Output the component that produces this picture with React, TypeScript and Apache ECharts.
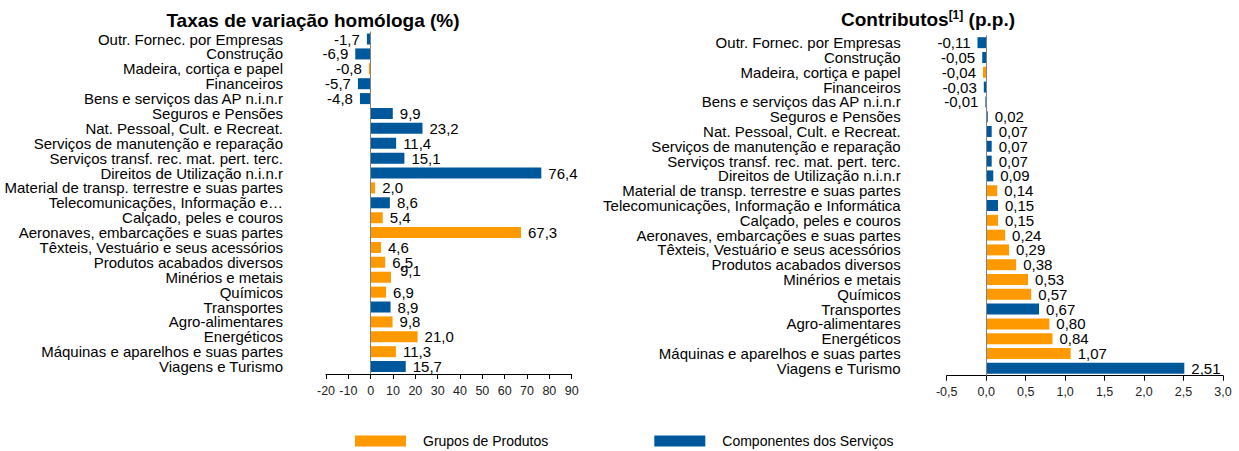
import React, { useEffect, useRef } from 'react';
import * as echarts from 'echarts';

const categories = [
  'Outr. Fornec. por Empresas',
  'Construção',
  'Madeira, cortiça e papel',
  'Financeiros',
  'Bens e serviços das AP n.i.n.r',
  'Seguros e Pensões',
  'Nat. Pessoal, Cult. e Recreat.',
  'Serviços de manutenção e reparação',
  'Serviços transf. rec. mat. pert. terc.',
  'Direitos de Utilização n.i.n.r',
  'Material de transp. terrestre e suas partes',
  'Telecomunicações, Informação e Informática',
  'Calçado, peles e couros',
  'Aeronaves, embarcações e suas partes',
  'Têxteis, Vestuário e seus acessórios',
  'Produtos acabados diversos',
  'Minérios e metais',
  'Químicos',
  'Transportes',
  'Agro-alimentares',
  'Energéticos',
  'Máquinas e aparelhos e suas partes',
  'Viagens e Turismo',
];

const leftCategoryLabels = categories.map((c) =>
  c === 'Telecomunicações, Informação e Informática' ? 'Telecomunicações, Informação e…' : c
);

// P = Grupos de Produtos, S = Componentes dos Serviços
const groups = ['S', 'S', 'P', 'S', 'S', 'S', 'S', 'S', 'S', 'S', 'P', 'S', 'P', 'P', 'P', 'P', 'P', 'P', 'S', 'P', 'P', 'P', 'S'];

const growthRates = [-1.7, -6.9, -0.8, -5.7, -4.8, 9.9, 23.2, 11.4, 15.1, 76.4, 2.0, 8.6, 5.4, 67.3, 4.6, 6.5, 9.1, 6.9, 8.9, 9.8, 21.0, 11.3, 15.7];
const contributions = [-0.11, -0.05, -0.04, -0.03, -0.01, 0.02, 0.07, 0.07, 0.07, 0.09, 0.14, 0.15, 0.15, 0.24, 0.29, 0.38, 0.53, 0.57, 0.67, 0.8, 0.84, 1.07, 2.51];

const leftAxis = { min: -20, max: 90, interval: 10 };
const rightAxis = { min: -0.5, max: 3, interval: 0.5 };

const seriesNames = { P: 'Grupos de Produtos', S: 'Componentes dos Serviços' };
const colors = { P: '#FF9900', S: '#00589C' };

const FONT = "'Liberation Sans', Arial, sans-serif";
const NARROW = "'Liberation Sans Narrow', 'Arial Narrow', 'Liberation Sans', Arial, sans-serif";

function fmt(v: number, d: number) {
  return v.toFixed(d).replace('.', ',');
}

function buildSeries(values: number[], group: 'P' | 'S', axisIndex: number, decimals: number, withZeroLine: boolean) {
  return {
    type: 'bar',
    name: seriesNames[group],
    xAxisIndex: axisIndex,
    yAxisIndex: axisIndex,
    barGap: '-100%',
    barCategoryGap: '26%',
    itemStyle: { color: colors[group] },
    data: values.map((v, i) => {
      if (groups[i] !== group) return '-';
      const item: any = {
        value: v,
        label: {
          show: true,
          position: v < 0 ? 'left' : 'right',
          distance: 7,
          formatter: () => fmt(v, decimals),
        },
      };
      if (axisIndex === 0 && categories[i] === 'Minérios e metais') {
        item.label.offset = [2, -7];
      }
      return item;
    }),
    label: {
      fontFamily: FONT,
      fontSize: 15,
      color: '#000',
    },
    markLine: withZeroLine
      ? {
          silent: true,
          symbol: ['none', 'none'],
          label: { show: false },
          lineStyle: { color: '#808080', type: 'solid', width: 1 },
          data: [{ xAxis: 0 }],
        }
      : undefined,
  };
}

export default function App() {
  const ref = useRef<HTMLDivElement>(null);

  useEffect(() => {
    document.body.style.margin = '0';
    if (!ref.current) return;
    const chart = echarts.init(ref.current, null, { renderer: 'svg' });

    const xAxisCommon = {
      type: 'value',
      axisLine: { show: true, lineStyle: { color: '#000', width: 1 } },
      axisTick: { show: true, length: 5, lineStyle: { color: '#000' } },
      splitLine: { show: false },
    };
    const yAxisCommon = {
      type: 'category',
      inverse: true,
      axisLine: { show: false },
      axisTick: { show: false },
      axisLabel: { fontFamily: FONT, fontSize: 15, color: '#000', interval: 0 },
    };

    const option: any = {
      animation: false,
      grid: [
        { left: 326, width: 245.7, top: 31.6, height: 342.4 },
        { left: 946.7, width: 276.3, top: 35.3, height: 340.4 },
      ],
      xAxis: [
        {
          ...xAxisCommon,
          gridIndex: 0,
          ...leftAxis,
          axisLabel: { fontFamily: NARROW, fontSize: 12.5, color: '#222', margin: 10, formatter: (v: number) => String(v) },
        },
        {
          ...xAxisCommon,
          gridIndex: 1,
          ...rightAxis,
          axisLabel: { fontFamily: NARROW, fontSize: 12.5, color: '#222', margin: 10, formatter: (v: number) => fmt(v, 1) },
        },
      ],
      yAxis: [
        { ...yAxisCommon, gridIndex: 0, data: leftCategoryLabels, axisLabel: { ...yAxisCommon.axisLabel, margin: 43 } },
        { ...yAxisCommon, gridIndex: 1, data: categories, axisLabel: { ...yAxisCommon.axisLabel, margin: 46 } },
      ],
      legend: {
        data: [seriesNames.P, seriesNames.S],
        left: 355,
        top: 434,
        padding: 0,
        itemWidth: 51,
        itemHeight: 11,
        itemGap: 106,
        icon: 'rect',
        selectedMode: false,
        textStyle: { fontFamily: FONT, fontSize: 14, color: '#000', padding: [0, 0, 0, 12] },
      },
      graphic: [
        {
          type: 'text',
          x: 313,
          y: 20,
          style: {
            text: 'Taxas de variação homóloga (%)',
            font: `bold 19px ${FONT}`,
            fill: '#000',
            align: 'center',
            verticalAlign: 'middle',
          },
        },
        {
          type: 'text',
          x: 928,
          y: 19,
          style: {
            text: '{a|Contributos}{s|[1]}{a| (p.p.)}',
            align: 'center',
            verticalAlign: 'middle',
            rich: {
              a: { fontFamily: FONT, fontWeight: 'bold', fontSize: 19, fill: '#000' },
              s: { fontFamily: FONT, fontWeight: 'bold', fontSize: 12, fill: '#000', padding: [0, 0, 9, 0] },
            },
          },
        },
      ],
      series: [
        buildSeries(growthRates, 'P', 0, 1, true),
        buildSeries(growthRates, 'S', 0, 1, false),
        buildSeries(contributions, 'P', 1, 2, true),
        buildSeries(contributions, 'S', 1, 2, false),
      ],
    };

    chart.setOption(option);
    return () => chart.dispose();
  }, []);

  return <div ref={ref} style={{ width: 1239, height: 451 }} />;
}
